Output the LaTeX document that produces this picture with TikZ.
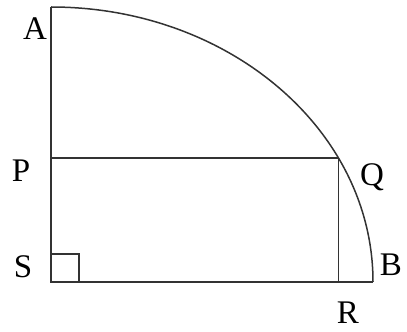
\documentclass[tikz,border=0pt]{standalone}
\usepackage{fontspec}
\setmainfont{Liberation Serif}
\usetikzlibrary{calc}
\begin{document}
\begin{tikzpicture}[x=1pt,y=1pt,
  geo/.style={draw=black!80,line width=1.5pt},
  lbl/.style={inner sep=0pt,font=\fontsize{33}{40}\selectfont,text=black}]
\useasboundingbox (0,0) rectangle (407,332);
\coordinate (S) at (51,50);
\coordinate (A) at (51,325);
\coordinate (B) at (373,50);
\path (S) ++(26.8:322 and 275) coordinate (Q);
\coordinate (P) at (S |- Q);
\coordinate (R) at (Q |- S);
\draw[geo] (A) -- (S) -- (B);
\draw[geo] (B) arc[start angle=0,end angle=90,x radius=322,y radius=275];
\draw[geo] (P) -- (Q) -- (R);
\draw[geo] ($(S)+(0,28)$) -| ($(S)+(28,0)$);
\node[lbl] (lA) at (35,303) {A};
\node[lbl] (lP) at (21,161) {P};
\node[lbl] (lS) at (23,65) {S};
\node[lbl] (lQ) at (372,155) {Q};
\node[lbl] (lB) at (391,67) {B};
\node[lbl] (lR) at (348,19) {R};
\end{tikzpicture}
\end{document}
